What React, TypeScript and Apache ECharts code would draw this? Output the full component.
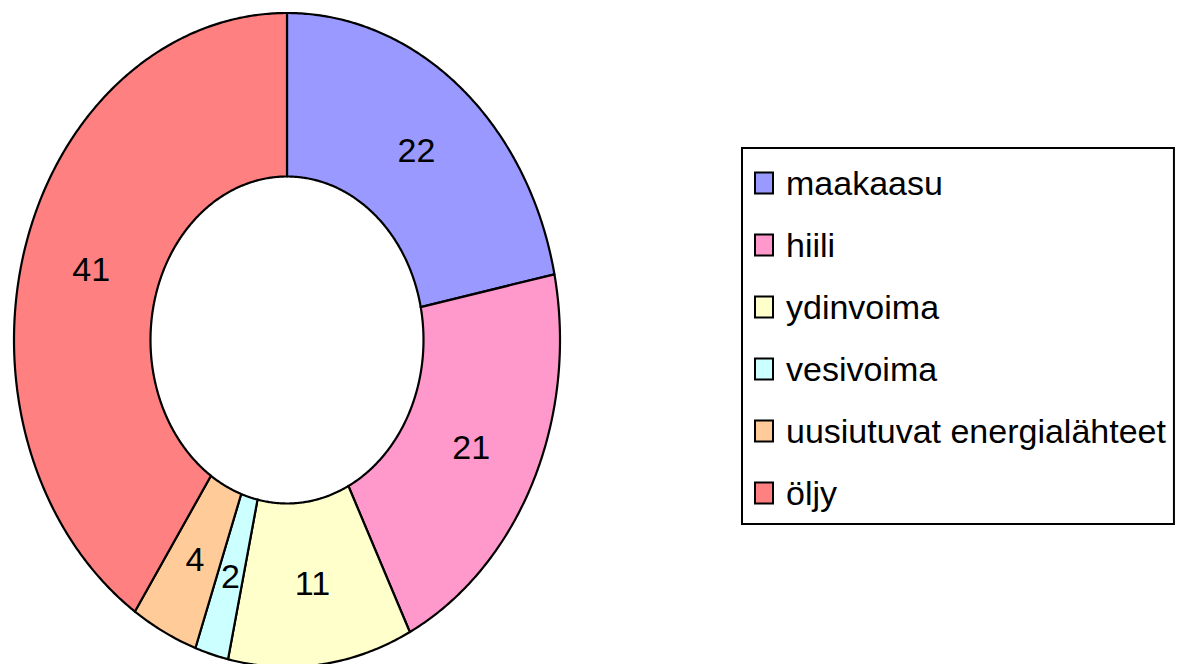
import React, { useEffect, useRef } from "react";
import * as echarts from "echarts";

const categories = ["maakaasu", "hiili", "ydinvoima", "vesivoima", "uusiutuvat energialähteet", "öljy"];
const values = [22, 21, 11, 2, 4, 41];
const colors = ["#9999FF", "#FF99CC", "#FFFFCC", "#CCFFFF", "#FFCC99", "#FF8080"];

const CX = 287;
const CY = 340;
const RX = 273;
const RY = 327;
const INNER = 0.5;
const FONT = "'Liberation Sans', Arial, sans-serif";

function angles(i: number) {
  const total = values.reduce((a, b) => a + b, 0);
  const before = values.slice(0, i).reduce((a, b) => a + b, 0);
  return [(before / total) * Math.PI * 2, ((before + values[i]) / total) * Math.PI * 2];
}

export default function App() {
  const ref = useRef<HTMLDivElement>(null);
  useEffect(() => {
    const chart = echarts.init(ref.current!, null, { renderer: "svg" });
    const sliceSeries = categories.map((name, i) => ({
      type: "custom",
      name,
      coordinateSystem: "none",
      z: 2,
      silent: true,
      itemStyle: { color: colors[i] },
      data: [values[i]],
      renderItem: (params: any, api: any) => {
        const [a0, a1] = angles(i);
        const n = Math.max(2, Math.ceil((a1 - a0) / (Math.PI / 360)));
        const pts: number[][] = [];
        for (let k = 0; k <= n; k++) {
          const a = a0 + ((a1 - a0) * k) / n;
          pts.push([CX + RX * Math.sin(a), CY - RY * Math.cos(a)]);
        }
        for (let k = n; k >= 0; k--) {
          const a = a0 + ((a1 - a0) * k) / n;
          pts.push([CX + RX * INNER * Math.sin(a), CY - RY * INNER * Math.cos(a)]);
        }
        return {
          type: "polygon",
          shape: { points: pts },
          style: { fill: colors[i], stroke: "#000", lineWidth: 2.2, lineJoin: "round" },
        };
      },
    }));
    const labelSeries = {
      type: "custom",
      name: "labels",
      coordinateSystem: "none",
      z: 5,
      silent: true,
      data: values,
      renderItem: (params: any, api: any) => {
        const i = params.dataIndex;
        const [a0, a1] = angles(i);
        const am = (a0 + a1) / 2;
        const rm = (1 + INNER) / 2;
        return {
          type: "text",
          x: CX + RX * rm * Math.sin(am),
          y: CY - RY * rm * Math.cos(am),
          style: {
            text: String(api.value(0)),
            fill: "#000",
            fontSize: 34,
            fontFamily: FONT,
            align: "center",
            verticalAlign: "middle",
          },
        };
      },
    };
    chart.setOption({
      animation: false,
      backgroundColor: "#fff",
      legend: {
        orient: "vertical",
        left: 742,
        top: 148,
        data: categories,
        icon: "rect",
        itemWidth: 18,
        itemHeight: 21,
        itemGap: 22,
        padding: [15, 8, 11, 12],
        borderColor: "#000",
        borderWidth: 2,
        selectedMode: false,
        itemStyle: { borderColor: "#000", borderWidth: 2 },
        textStyle: {
          fontSize: 34,
          fontFamily: FONT,
          color: "#000",
          lineHeight: 40,
          padding: [0, 0, 0, 8],
        },
      },
      series: [...sliceSeries, labelSeries],
    });
    return () => chart.dispose();
  }, []);
  return (
    <div
      ref={ref}
      style={{ position: "absolute", left: 0, top: 0, width: 1178, height: 664 }}
    />
  );
}
